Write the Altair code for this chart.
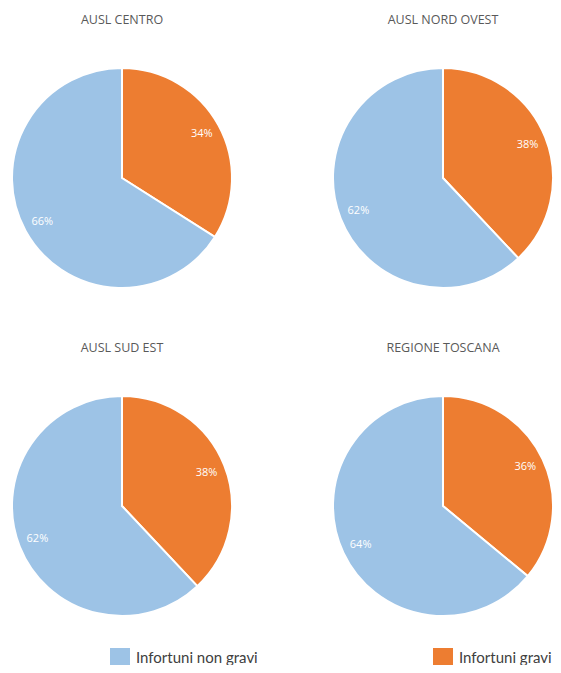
import altair as alt
import pandas as pd
import math

regions = ["AUSL CENTRO", "AUSL NORD OVEST", "AUSL SUD EST", "REGIONE TOSCANA"]
categories = ["Infortuni gravi", "Infortuni non gravi"]
gravi = [34, 38, 38, 36]
non_gravi = [66, 62, 62, 64]

rows = []
for i, (r, g, n) in enumerate(zip(regions, gravi, non_gravi)):
    rows.append({"region": r, "idx": i, "cat": categories[0], "value": g, "ord": 0})
    rows.append({"region": r, "idx": i, "cat": categories[1], "value": n, "ord": 1})
df = pd.DataFrame(rows)
titles_df = pd.DataFrame({"region": regions, "idx": list(range(len(regions)))})

xscale = alt.Scale(type="point", domain=[0, 1], range=[114, 435], padding=0)
yscale = alt.Scale(type="point", domain=[0, 1], range=[170, 498], padding=0)
tscale = alt.Scale(domain=[0, 100], range=[0, 2 * math.pi])

color = alt.Color(
    "cat:N",
    scale=alt.Scale(domain=["Infortuni non gravi", "Infortuni gravi"],
                    range=["#9DC3E6", "#ED7D31"]),
    legend=alt.Legend(
        title=None, orient="none", direction="horizontal", columns=2,
        legendX=102, legendY=640, columnPadding=175, padding=0,
        symbolType="square", symbolSize=400, symbolStrokeWidth=0,
        labelFontSize=15, labelColor="#404040", labelFont="Lato",
        labelOffset=6, labelLimit=300,
    ),
)

base = alt.Chart(df).transform_calculate(
    col="datum.idx % 2", row="floor(datum.idx / 2)"
).transform_window(
    end="sum(value)", groupby=["region"], sort=[alt.SortField("ord")]
).transform_calculate(
    start="datum.end - datum.value", mid="datum.end - datum.value / 2",
    label="datum.value + '%'"
).encode(
    x=alt.X("col:O", scale=xscale, axis=None),
    y=alt.Y("row:O", scale=yscale, axis=None),
)

arcs = base.mark_arc(radius=110, stroke="white", strokeWidth=2).encode(
    theta=alt.Theta("start:Q", scale=tscale),
    theta2="end:Q",
    color=color,
)
labels = base.mark_text(radius=91, color="white", fontSize=11, font="Open Sans").encode(
    theta=alt.Theta("mid:Q", scale=tscale),
    text="label:N",
)
titles = alt.Chart(titles_df).transform_calculate(
    col="datum.idx % 2", row="floor(datum.idx / 2)"
).mark_text(dy=-158, fontSize=12.5, font="Open Sans", color="#595959").encode(
    x=alt.X("col:O", scale=xscale, axis=None),
    y=alt.Y("row:O", scale=yscale, axis=None),
    text="region:N",
)

chart = alt.layer(arcs, labels, titles).properties(
    width=545, height=657,
    autosize=alt.AutoSizeParams(type="none"),
    padding=0,
).configure_view(stroke=None)

chart.save("out.html", embed_options={"renderer": "svg", "actions": False})
